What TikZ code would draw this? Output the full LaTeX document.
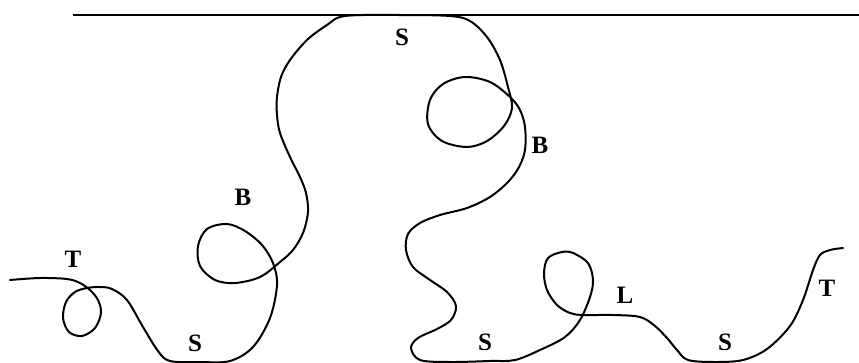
\documentclass[tikz,border=0pt]{standalone}
\usepackage{fontspec}
\setmainfont{Liberation Serif}
\usepackage{tikz}

\begin{document}
\begin{tikzpicture}[x=1pt, y=-1pt, every node/.style={inner sep=0pt},
  lbl/.style={font=\fontsize{25}{28}\selectfont\bfseries},
  strand/.style={line width=2pt, line join=round, line cap=round}]
  \useasboundingbox (0,0) rectangle (859,362);
  \coordinate (wL) at (73,15);
  \coordinate (wR) at (859,15);
  \draw[line width=1.5pt] (wL) -- (wR);
  \draw[strand] plot[smooth, tension=0.55] coordinates {
    (10,280) (40,278) (67,279) (80,283) (90,290) (98,300) (101,313) (95,328)
    (82,336) (69,332) (63,318) (66,302) (75,292) (87,288) (100,287) (112,289)
    (127,300) (143,327) (158,351) (170,361) (200,362) (230,361) (253,347)
    (270,318) (277,285) (273,263) (262,245) (245,231) (227,224) (207,229)
    (198,246) (200,266) (215,280) (235,283) (260,277) (280,262) (293,250)
    (303,233) (308,212) (306,193) (300,177) (290,157) (280,133) (277,115)
    (277,97) (281,77) (290,60) (307,40) (327,25) (345,16) (400,15) (450,16)
    (470,21) (487,37) (500,60) (508,87) (512,108) (504,126) (487,141)
    (467,147) (442,141) (428,124) (430,100) (443,84) (465,77) (490,82)
    (510,97) (520,110) (525,127) (525,150) (519,167) (508,182) (490,197)
    (467,208) (440,215) (420,223) (408,234) (406,250) (413,267) (430,280)
    (447,292) (456,306) (451,320) (437,329) (418,338) (411,348) (420,360)
    (450,362) (490,361) (515,360) (540,350) (565,337) (580,320) (590,297)
    (593,280) (588,263) (573,253) (562,252) (548,258) (544,273) (547,290)
    (557,305) (570,313) (583,315) (613,315) (640,317) (655,326) (667,338)
    (677,350) (688,360) (715,362) (743,360) (767,349) (790,326) (803,300)
    (813,270) (820,255) (830,250) (843,248)};
  \node[lbl] (tL) at (73,259) {T};
  \node[lbl] (bL) at (243,197) {B};
  \node[lbl] (sL) at (195,343) {S};
  \node[lbl] (sT) at (402,37) {S};
  \node[lbl] (bR) at (540,145) {B};
  \node[lbl] (sM) at (485,342) {S};
  \node[lbl] (lR) at (625,295) {L};
  \node[lbl] (sR) at (725,342) {S};
  \node[lbl] (tR) at (827,288) {T};
\end{tikzpicture}
\end{document}
